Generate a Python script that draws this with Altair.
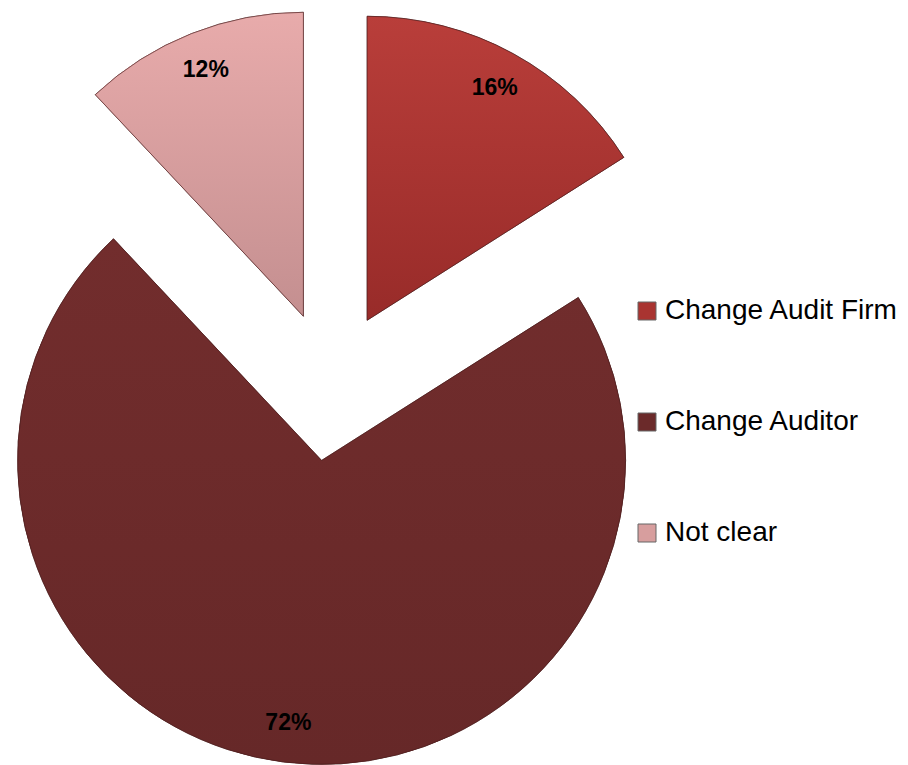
import altair as alt
import pandas as pd

categories = ["Change Audit Firm", "Change Auditor", "Not clear"]
shares = [16, 72, 12]
labels = ["16%", "72%", "12%"]
colors = ["#A93431", "#6B2A2A", "#D79E9E"]
grad_top = ["#B93E3A", "#722D2D", "#E8ABAB"]
grad_bottom = ["#982B29", "#662828", "#C48F90"]

df = pd.DataFrame({"category": categories, "share": shares, "label": labels, "idx": [0, 1, 2]})

CX, CY = 323, 378
EXPLODE = 75
R = 304
LABEL_R = 265
FONT = "Liberation Sans"

base = (
    alt.Chart(df)
    .transform_window(cum="sum(share)", sort=[alt.SortField("idx")], frame=[None, 0])
    .transform_joinaggregate(total="sum(share)")
    .transform_calculate(
        t0="2*PI*(datum.cum - datum.share)/datum.total",
        t1="2*PI*datum.cum/datum.total",
    )
    .transform_calculate(mid="(datum.t0 + datum.t1)/2")
    .transform_calculate(
        cx=f"{CX} + {EXPLODE}*sin(datum.mid)",
        cy=f"{CY} - {EXPLODE}*cos(datum.mid)",
        lx=f"{CX} + ({EXPLODE}+{LABEL_R})*sin(datum.mid)",
        ly=f"{CY} - ({EXPLODE}+{LABEL_R})*cos(datum.mid)",
    )
)

pos = dict(
    theta=alt.Theta("t0:Q", scale=None),
    theta2="t1:Q",
    x=alt.X("cx:Q", scale=None, axis=None),
    y=alt.Y("cy:Q", scale=None, axis=None),
)

arcs = base.mark_arc(radius=R, stroke="#4a1c1c", strokeWidth=1, strokeOpacity=0.6).encode(
    color=alt.Color(
        "category:N",
        scale=alt.Scale(domain=categories, range=colors),
        legend=alt.Legend(
            orient="none",
            legendX=625,
            legendY=289,
            title=None,
            symbolType="square",
            symbolSize=324,
            symbolStrokeWidth=1,
            symbolStrokeColor="#666666",
            labelFontSize=28,
            labelFont=FONT,
            labelColor="#000000",
            labelOffset=4,
            labelLimit=0,
            rowPadding=83,
            padding=0,
        ),
    ),
    **pos,
)

overlays = []
for i, cat in enumerate(categories):
    grad = alt.LinearGradient(
        gradient="linear",
        stops=[alt.GradientStop(color=grad_top[i], offset=0), alt.GradientStop(color=grad_bottom[i], offset=1)],
        x1=0, x2=0, y1=0, y2=1,
    )
    overlays.append(
        base.transform_filter(alt.datum.idx == i)
        .mark_arc(radius=R, fill=grad, stroke="#4a1c1c", strokeWidth=1, strokeOpacity=0.6)
        .encode(**pos)
    )

text = base.mark_text(fontSize=23, fontWeight="bold", font=FONT, color="#000000").encode(
    x=alt.X("lx:Q", scale=None, axis=None),
    y=alt.Y("ly:Q", scale=None, axis=None),
    text="label:N",
)

chart = (
    alt.layer(arcs, *overlays, text)
    .properties(width=892, height=757, autosize=alt.AutoSizeParams(type="none"), padding=0, background="white")
    .configure_view(stroke=None)
)

chart.save("out.html", embed_options={"renderer": "svg", "actions": False})
